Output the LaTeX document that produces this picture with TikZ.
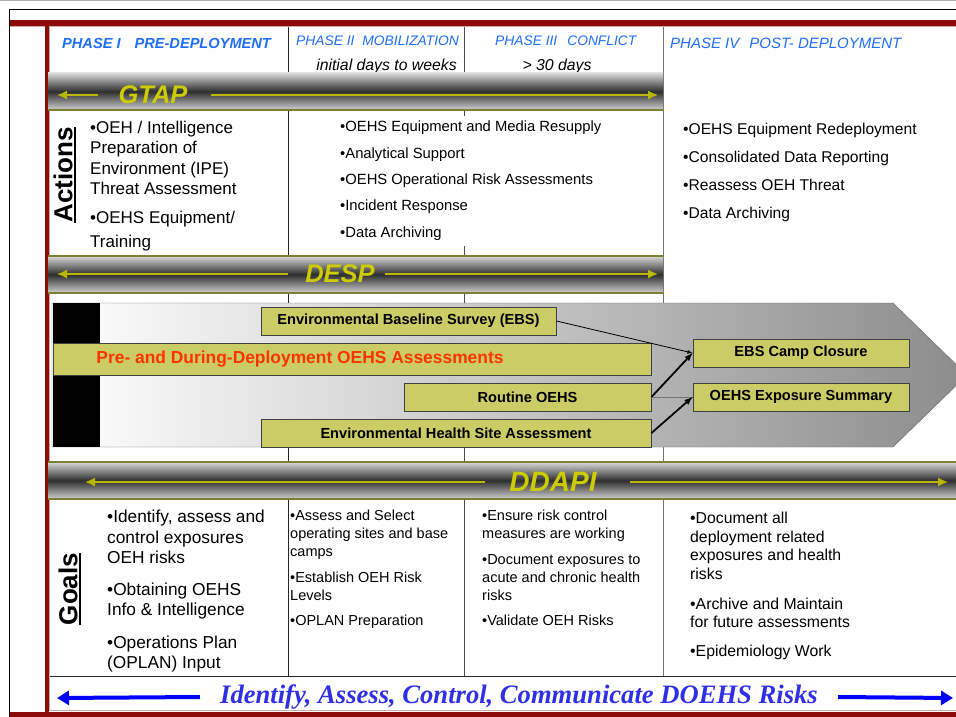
\documentclass[tikz,border=0pt]{standalone}
\usepackage{fontspec}
\setmainfont{Liberation Sans}
\newfontfamily\serifbanner{Liberation Serif}
\usetikzlibrary{arrows.meta}
\definecolor{framered}{HTML}{8B0A0A}
\definecolor{framepink}{HTML}{D8A6A6}
\definecolor{phaseblue}{HTML}{1F6EFF}
\definecolor{olivebox}{HTML}{CCCC66}
\definecolor{bandyellow}{HTML}{CCCC00}
\definecolor{bandedge}{HTML}{7F7F33}
\definecolor{assessred}{HTML}{FF3300}
\definecolor{riskblue}{HTML}{2F2FE8}
\newcommand\fsz[2]{\fontsize{#1}{#2}\selectfont}
\tikzset{
  phase/.style={anchor=west, inner sep=0, text=phaseblue, font=\fsz{13.8}{15}\itshape},
  span/.style={inner sep=0, font=\fsz{15.8}{17}\itshape},
  band/.style={top color=black!15, bottom color=black!18, middle color=black!82},
  bandedgeline/.style={draw=bandedge, line width=1.5pt},
  bandname/.style={inner sep=0, text=bandyellow, font=\fsz{25.5}{27}\bfseries\itshape},
  bandarrow/.style={draw=bandyellow!90!black, line width=1.6pt, -{Latex[length=10pt,width=9pt]}},
  rowname/.style={rotate=90, inner sep=0, font=\fsz{26}{28}\bfseries},
  bullets/.style={anchor=north west, align=left, inner sep=0},
  obox/.style={draw=black!75, line width=0.9pt, fill=olivebox, inner sep=0, minimum height=28, font=\fsz{14.6}{16}\bfseries},
  riskarrow/.style={draw=blue, line width=4pt, -{Triangle[length=12pt,width=14pt]}}
}
\begin{document}
\begin{tikzpicture}[x=1pt, y=-1pt, >=latex]
\pgfmathsetmacro\colA{288}
\pgfmathsetmacro\colB{464}
\pgfmathsetmacro\colC{663}
\useasboundingbox (0,0) rectangle (956,717);
\clip (0,0) rectangle (956,717);
\fill[white] (0,0) rectangle (956,717);
\draw[black!30] (0,0.5) -- (956,0.5);
\draw[line width=1.5pt] (9.5,9.5) -- (956,9.5) (9.5,9.5) -- (9.5,717);
\fill[framered] (10,20.5) rectangle (956,26);
\draw[framepink] (10,26.5) -- (956,26.5);
\fill[framered] (44.5,26) rectangle (49,717);
\draw[framepink] (49.5,27) -- (49.5,711);
\fill[framered] (10,711.5) rectangle (956,717);
\draw[framepink] (49,710.5) -- (956,710.5);

\draw[black!85] (\colA,27) -- (\colA,676);
\draw[black!70] (\colB,27) -- (\colB,116) (\colB,246) -- (\colB,676);
\draw[black!55] (\colC,27) -- (\colC,676);
\draw[black!85] (50,676) -- (956,676);

\node[phase, font=\fsz{14.6}{16}\bfseries\itshape] (p1) at (62,43) {PHASE I\hspace{14pt}PRE-DEPLOYMENT};
\node[phase] (p2) at (296,41) {PHASE II\hspace{8pt}MOBILIZATION};
\node[span, anchor=east] (p2time) at (457,66) {initial days to weeks};
\node[phase] (p3) at (495,41) {PHASE III\hspace{10pt}CONFLICT};
\node[span] (p3time) at (557,66) {> 30 days};
\node[phase, font=\fsz{15}{16}\itshape] (p4) at (670,43) {PHASE IV\hspace{10pt}POST- DEPLOYMENT};

\fill[band] (48,73) rectangle (\colC,110);
\draw[bandedgeline] (48,110) -- (\colC,110);
\node[bandname] (gtap) at (153,95) {GTAP};
\coordinate (gtapL) at (57,95);
\coordinate (gtapR) at (658,95);
\draw[bandarrow] ([xshift=-20]gtap.west) -- (gtapL);
\draw[bandarrow] ([xshift=23]gtap.east) -- (gtapR);

\fill[band] (48,256) rectangle (\colC,293);
\draw[bandedgeline] (48,256) -- (\colC,256) (48,293) -- (\colC,293);
\node[bandname] (desp) at (340,274) {DESP};
\coordinate (despL) at (57,274);
\coordinate (despR) at (658,274);
\draw[bandarrow] ([xshift=-17]desp.west) -- (despL);
\draw[bandarrow] ([xshift=10]desp.east) -- (despR);

\fill[band] (48,462) rectangle (956,499);
\draw[bandedgeline] (48,462) -- (956,462) (48,499) -- (956,499);
\node[bandname, font=\fsz{28}{30}\bfseries\itshape] (ddapi) at (553,482) {DDAPI};
\coordinate (ddapiL) at (85,482);
\coordinate (ddapiR) at (948,482);
\draw[bandarrow] ([xshift=-24]ddapi.west) -- (ddapiL);
\draw[bandarrow] ([xshift=33]ddapi.east) -- (ddapiR);

\node[rowname] (actions) at (63,175) {Actions};
\draw[line width=2pt] ([xshift=2.5]actions.south west) -- ([xshift=2.5]actions.south east);
\node[rowname] (goals) at (68,589) {Goals};
\draw[line width=2pt] ([xshift=2.5]goals.south west) -- ([xshift=2.5]goals.south east);

\node[bullets, font=\fsz{17}{20.3}] (act1) at (90,121) {•OEH / Intelligence\\Preparation of\\Environment (IPE)\\Threat Assessment\\[9pt]•OEHS Equipment/\\[3pt]Training};
\node[bullets, font=\fsz{14.8}{26.3}] (act2) at (340,121) {•OEHS Equipment and Media Resupply\\•Analytical Support\\•OEHS Operational Risk Assessments\\•Incident Response\\•Data Archiving};
\node[bullets, font=\fsz{15.6}{28}] (act4) at (683,123) {•OEHS Equipment Redeployment\\•Consolidated Data Reporting\\•Reassess OEH Threat\\•Data Archiving};

\draw[black!60, left color=white, right color=black!45] (52,303) -- (893,303) -- (967,375) -- (893,447) -- (52,447) -- cycle;
\fill (53,303) rectangle (100,447);

\node[obox, minimum width=295] (ebs) at (408.5,321) {Environmental Baseline Survey (EBS)};
\node[obox, minimum width=598, minimum height=32] (assess) at (352,359) {};
\node[text=assessred, font=\fsz{17.4}{19}\bfseries] (assesstext) at ([xshift=-52]assess.center) {Pre- and During-Deployment OEHS Assessments};
\node[obox, minimum width=247] (routine) at (527.5,397) {Routine OEHS};
\node[obox, minimum width=390] (ehsa) at (456,433) {Environmental Health Site Assessment};
\node[obox, minimum width=216] (closure) at (801,353) {EBS Camp Closure};
\node[obox, minimum width=216] (summary) at (801,397) {OEHS Exposure Summary};

\draw[->, line width=0.8pt] (ebs.east) -- (closure.west);
\draw[black!55, line width=1pt] (routine.east) -- (summary.west);
\draw[->, line width=1.8pt] (routine.east) -- (closure.west);
\draw[->, line width=1.8pt] (ehsa.east) -- (summary.west);

\node[bullets, font=\fsz{17.3}{20.3}] (goal1) at (107,510) {•Identify, assess and\\control exposures\\OEH risks\\[12pt]•Obtaining OEHS\\Info \& Intelligence\\[12pt]•Operations Plan\\(OPLAN) Input};
\node[bullets, font=\fsz{14.5}{18}] (goal2) at (290,510) {•Assess and Select\\operating sites and base\\camps\\[8pt]•Establish OEH Risk\\Levels\\[7pt]•OPLAN Preparation};
\node[bullets, font=\fsz{14.5}{18}] (goal3) at (482,510) {•Ensure risk control\\measures are working\\[8pt]•Document exposures to\\acute and chronic health\\risks\\[7pt]•Validate OEH Risks};
\node[bullets, font=\fsz{15.8}{18.6}] (goal4) at (690,512) {•Document all\\deployment related\\exposures and health\\risks\\[11pt]•Archive and Maintain\\for future assessments\\[10pt]•Epidemiology Work};

\node[inner sep=0, text=riskblue, font=\serifbanner\fsz{26.6}{28}\bfseries\itshape] (risk) at (519,697) {Identify, Assess, Control, Communicate DOEHS Risks};
\coordinate (riskL) at (57,698);
\coordinate (riskR) at (953,698);
\draw[riskarrow] ([xshift=-20]risk.west) -- (riskL);
\draw[riskarrow] ([xshift=20]risk.east) -- (riskR);
\end{tikzpicture}
\end{document}
